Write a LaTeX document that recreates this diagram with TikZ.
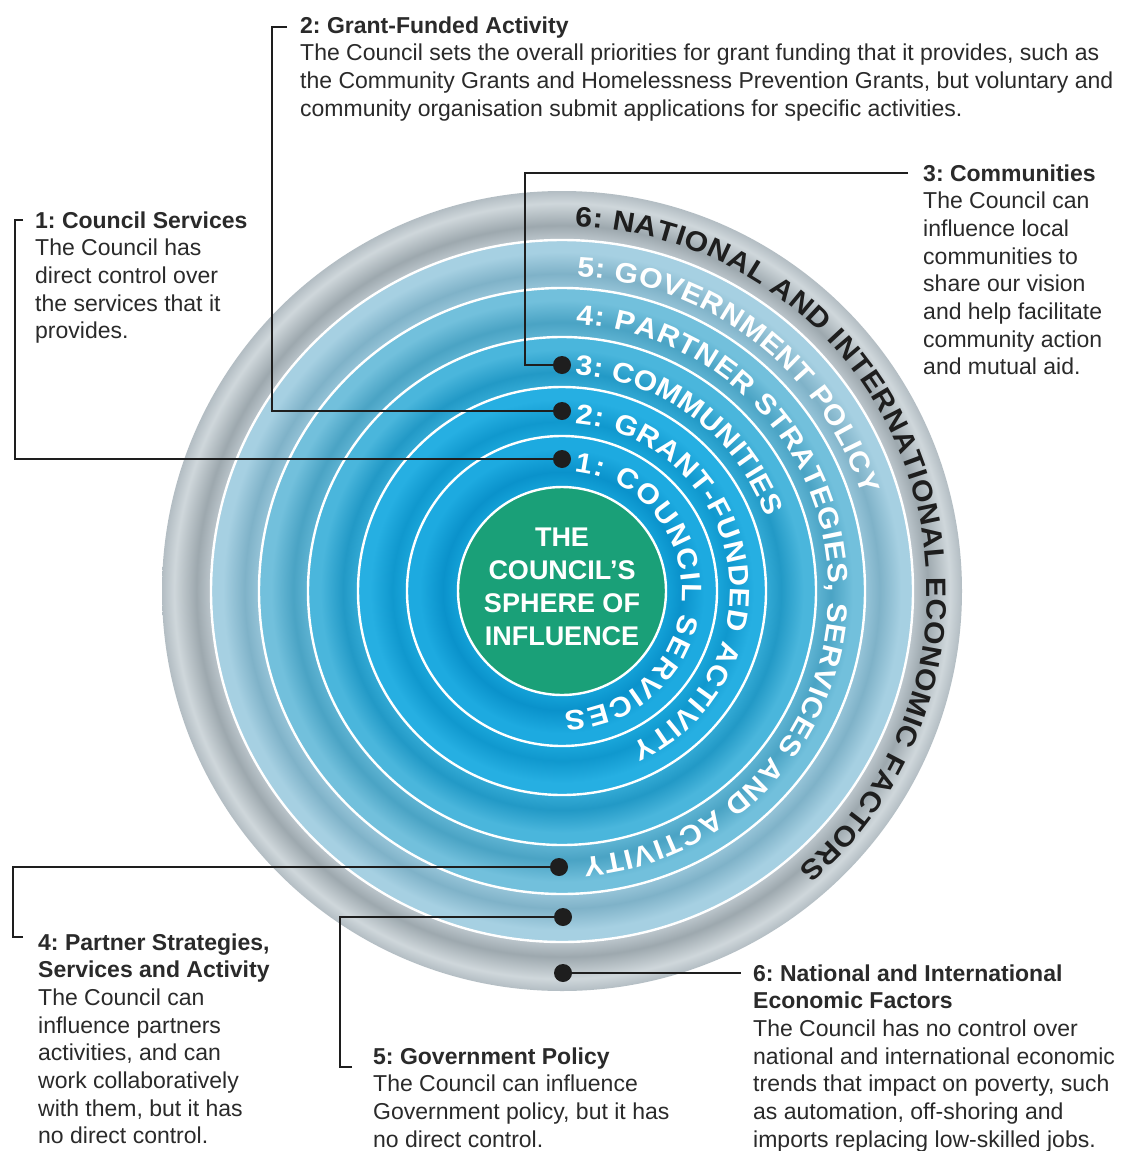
\documentclass[tikz,border=0pt]{standalone}
\usepackage{fontspec}
\setmainfont{Liberation Sans}
\newfontfamily\ringface{Liberation Sans}[FakeStretch=1.08, BoldFeatures={FakeStretch=1.08}]
\usetikzlibrary{decorations.text}
\frenchspacing
\definecolor{txt}{HTML}{2A2A2A}
\definecolor{lnc}{HTML}{1E1E1E}
\definecolor{core}{HTML}{1AA078}
\definecolor{bam}{HTML}{14A2D8}\definecolor{bad}{HTML}{0A92CB}\definecolor{bal}{HTML}{1DAAE0}
\definecolor{bbm}{HTML}{1AA6DA}\definecolor{bbd}{HTML}{1098CE}\definecolor{bbl}{HTML}{26AFE2}
\definecolor{bcm}{HTML}{33AAD5}\definecolor{bcd}{HTML}{2299C6}\definecolor{bcl}{HTML}{4AB6DC}
\definecolor{bdm}{HTML}{5FB4D3}\definecolor{bdd}{HTML}{4AA3C4}\definecolor{bdl}{HTML}{72C0DC}
\definecolor{bem}{HTML}{96C4D8}\definecolor{bed}{HTML}{7FB2C8}\definecolor{bel}{HTML}{A6D0E2}
\definecolor{bfm}{HTML}{BCC6CC}\definecolor{bfd}{HTML}{9DA8AE}\definecolor{bfl}{HTML}{CFD7DB}\definecolor{bfe}{HTML}{B3BDC3}
\pgfdeclareradialshading{ringshade}{\pgfpoint{0bp}{0bp}}{%
color(0bp)=(core); color(6.4bp)=(core);
color(6.5bp)=(bam); color(7.456bp)=(bad); color(8.891bp)=(bal); color(9.6875bp)=(bal);
color(9.70bp)=(bbm); color(10.606bp)=(bbd); color(11.984bp)=(bbl); color(12.75bp)=(bbl);
color(12.76bp)=(bcm); color(13.6875bp)=(bcd); color(15.094bp)=(bcl); color(15.875bp)=(bcl);
color(15.885bp)=(bdm); color(16.794bp)=(bdd); color(18.172bp)=(bdl); color(18.9375bp)=(bdl);
color(18.95bp)=(bem); color(19.8375bp)=(bed); color(21.1875bp)=(bel); color(21.9375bp)=(bel);
color(21.95bp)=(bfm); color(22.856bp)=(bfd); color(24.234bp)=(bfl); color(25bp)=(bfe); color(50bp)=(white)}
\newcommand{\ringfnt}{\ringface\fontsize{28pt}{28pt}\selectfont\bfseries}
\newcommand{\blurbbox}[1]{\parbox[t]{880pt}{\raggedright #1}}
\tikzset{
  dot/.style={circle, fill=lnc, inner sep=0pt, minimum size=18pt},
  conn/.style={draw=lnc, line width=2.2pt},
  sep/.style={draw=white, line width=2.4pt},
  blurb/.style={anchor=base west, inner sep=0pt, text=txt, font=\fontsize{23pt}{27.7pt}\selectfont},
  ringtext/.style={decorate, decoration={text along path, text={|\ringfnt|#1}, text color=white, text align={fit to path}}},
  ringtextdark/.style={decorate, decoration={text along path, text={|\ringfnt|#1}, text color=lnc, text align={fit to path}}}
}
\begin{document}
\begin{tikzpicture}[x=1pt,y=1pt]
\useasboundingbox[fill=white] (0,0) rectangle (1123,-1151);
\coordinate (ctr) at (562,-591);
\shade[shading=ringshade] (ctr) circle (400);
\foreach \r in {155,204,254,303,351} \draw[sep] (ctr) circle (\r);
\node[circle, fill=core, draw=white, line width=2.4pt, minimum size=208pt, inner sep=0pt] (core) at (ctr) {};
\node[align=center, text=white, inner sep=0pt, font=\fontsize{27pt}{33pt}\selectfont\bfseries] (coretext) at (562,-587) {THE\\COUNCIL'S\\SPHERE OF\\INFLUENCE};
\begin{scope}[shift={(ctr)}]
\path[ringtext={1: COUNCIL SERVICES}] (84:120) arc[start angle=84, end angle=-89, radius=120];
\path[ringtext={2: GRANT-FUNDED ACTIVITY}] (85.6:168) arc[start angle=85.6, end angle=-66, radius=168];
\path[ringtext={3: COMMUNITIES}] (86.6:217) arc[start angle=86.6, end angle=20, radius=217];
\path[ringtext={4: PARTNER STRATEGIES, SERVICES AND ACTIVITY}] (87:267) arc[start angle=87, end angle=-85.5, radius=267];
\path[ringtext={5: GOVERNMENT POLICY}] (87.3:315) arc[start angle=87.3, end angle=17.7, radius=315];
\path[ringtextdark={6: NATIONAL AND INTERNATIONAL ECONOMIC FACTORS}] (88:365) arc[start angle=88, end angle=-49.6, radius=365];
\end{scope}
% dots
\node[dot] (d1) at (562,-459) {};
\node[dot] (d2) at (562,-411) {};
\node[dot] (d3) at (562,-365) {};
\node[dot] (d4) at (559,-867) {};
\node[dot] (d5) at (563,-917) {};
\node[dot] (d6) at (563,-973) {};
% connector corners
\coordinate (a1) at (23,-220); \coordinate (b1) at (15,-220); \coordinate (e1) at (15,-459);
\coordinate (a2) at (287,-27); \coordinate (b2) at (272,-27); \coordinate (e2) at (272,-411);
\coordinate (a3) at (908,-173); \coordinate (b3) at (525,-173); \coordinate (e3) at (525,-365);
\coordinate (a4) at (23,-937); \coordinate (b4) at (13,-937); \coordinate (e4) at (13,-867);
\coordinate (a5) at (352,-1067); \coordinate (b5) at (340,-1067); \coordinate (e5) at (340,-917);
\coordinate (a6) at (741,-973);
\draw[conn] (a1) -- (b1) -- (e1) -- (d1);
\draw[conn] (a2) -- (b2) -- (e2) -- (d2);
\draw[conn] (a3) -- (b3) -- (e3) -- (d3);
\draw[conn] (a4) -- (b4) -- (e4) -- (d4);
\draw[conn] (a5) -- (b5) -- (e5) -- (d5);
\draw[conn] (d6) -- (a6);
% text blocks
\node[blurb] (t1) at (35,-228) {\blurbbox{\textbf{1: Council Services}\\The Council has\\direct control over\\the services that it\\provides.}};
\node[blurb] (t2) at (300,-33) {\blurbbox{\textbf{2: Grant-Funded Activity}\\The Council sets the overall priorities for grant funding that it provides, such as\\the Community Grants and Homelessness Prevention Grants, but voluntary and\\community organisation submit applications for specific activities.}};
\node[blurb] (t3) at (923,-181) {\blurbbox{\textbf{3: Communities}\\The Council can\\influence local\\communities to\\share our vision\\and help facilitate\\community action\\and mutual aid.}};
\node[blurb] (t4) at (38,-950) {\blurbbox{\textbf{4: Partner Strategies,}\\\textbf{Services and Activity}\\The Council can\\influence partners\\activities, and can\\work collaboratively\\with them, but it has\\no direct control.}};
\node[blurb] (t5) at (373,-1064) {\blurbbox{\textbf{5: Government Policy}\\The Council can influence\\Government policy, but it has\\no direct control.}};
\node[blurb] (t6) at (753,-981) {\blurbbox{\textbf{6: National and International}\\\textbf{Economic Factors}\\The Council has no control over\\national and international economic\\trends that impact on poverty, such\\as automation, off-shoring and\\imports replacing low-skilled jobs.}};
\end{tikzpicture}
\end{document}
